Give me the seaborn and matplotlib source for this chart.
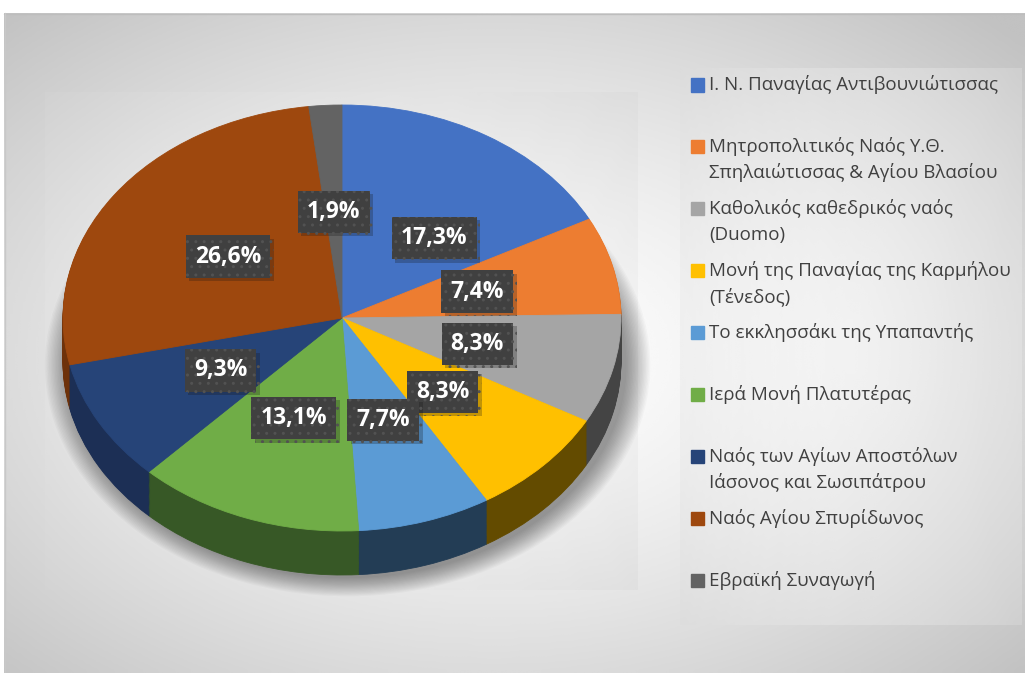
import numpy as np
import matplotlib
matplotlib.use('Agg')
import matplotlib.pyplot as plt
import matplotlib.patheffects as pe
from matplotlib.patches import Ellipse, Rectangle
import seaborn as sns

churches = [
    'Ι. Ν. Παναγίας Αντιβουνιώτισσας',
    'Μητροπολιτικός Ναός Υ.Θ.\nΣπηλαιώτισσας & Αγίου Βλασίου',
    'Καθολικός καθεδρικός ναός\n(Duomo)',
    'Μονή της Παναγίας της Καρμήλου\n(Τένεδος)',
    'Το εκκλησσάκι της Υπαπαντής',
    'Ιερά Μονή Πλατυτέρας',
    'Ναός των Αγίων Αποστόλων\nΙάσονος και Σωσιπάτρου',
    'Ναός Αγίου Σπυρίδωνος',
    'Εβραϊκή Συναγωγή',
]
shares = [17.3, 7.4, 8.3, 8.3, 7.7, 13.1, 9.3, 26.6, 1.9]

top_colors = sns.color_palette(['#4472C4', '#ED7D31', '#A5A5A5', '#FFC000', '#5B9BD5',
                                '#70AD47', '#264478', '#9E480E', '#636363'])
side_colors = sns.color_palette(['#2f4f88', '#a3561f', '#444444', '#634b00', '#233d55',
                                 '#375826', '#1c2f55', '#6e320a', '#444444'])

W, H = 1025, 673
sns.set_theme(style='white')
plt.rcParams['font.family'] = ['Open Sans', 'DejaVu Sans']

fig = plt.figure(figsize=(W / 100, H / 100), dpi=100)
fig.patch.set_facecolor('white')


def fx(x):
    return x / W


def fy(y):
    return 1 - y / H


def radial(w, h, edge=0.78, cx=0.5, cy=0.5):
    yy, xx = np.mgrid[0:1:h * 1j, 0:1:w * 1j]
    d = np.sqrt(((xx - cx) / 0.5) ** 2 + ((yy - cy) / 0.5) ** 2) / np.sqrt(2)
    return 1 - (1 - edge) * np.clip(d, 0, 1) ** 1.4


# background: chart area, plot area and legend each have a soft radial fill
bg = fig.add_axes([0, 0, 1, 1])
bg.imshow(radial(400, 300, 0.76, 0.48, 0.52), cmap='gray', vmin=0, vmax=1,
          extent=(4, W, H, 13), aspect='auto', interpolation='bicubic')
bg.imshow(radial(300, 260, 0.84), cmap='gray', vmin=0, vmax=1, alpha=0.35,
          extent=(45, 638, 590, 92), aspect='auto', interpolation='bicubic')
bg.imshow(radial(200, 300, 0.86), cmap='gray', vmin=0, vmax=1, alpha=0.45,
          extent=(680, 1022, 625, 68), aspect='auto', interpolation='bicubic')
bg.plot([4, W], [13.5, 13.5], color='#bdbdbd', lw=1)
bg.plot([4.5, 4.5], [13, H], color='#c8c8c8', lw=1)
bg.set_xlim(0, W)
bg.set_ylim(H, 0)
bg.axis('off')

# 3D pie: stretched axes so the unit circle becomes the tilted ellipse
cx, cy, rx, ry, depth = 342, 318, 279, 213, 44
x0, x1, y0, y1 = -1.2, 1.2, -1.5, 1.2
left = cx + x0 * rx
top = cy - y1 * ry
ax = fig.add_axes([fx(left), fy(top + (y1 - y0) * ry), (x1 - x0) * rx / W, (y1 - y0) * ry / H])
ax.set_facecolor('none')

d = depth / ry
for k in range(18):
    s = 1.0 + 0.005 * k
    ax.add_patch(Ellipse((0.02, -d - 0.015), 2 * s, 2 * s, color='black', alpha=0.022, lw=0))

n_layers = 40
for k in range(n_layers, 0, -1):
    wedges, _ = ax.pie(shares, colors=side_colors, startangle=90, counterclock=False,
                       center=(0, -d * k / n_layers), radius=1)
    for w in wedges:
        w.set_edgecolor(w.get_facecolor())
        w.set_linewidth(0.6)

wedges, texts, autotexts = ax.pie(
    shares, colors=top_colors, startangle=90, counterclock=False,
    autopct=lambda p: f'{p:.1f}%'.replace('.', ','), pctdistance=0.5,
    textprops=dict(color='white', fontsize=16.5, fontweight='bold'))
for w in wedges:
    w.set_edgecolor(w.get_facecolor())
    w.set_linewidth(0.6)
for t in autotexts:
    t.set_bbox(dict(boxstyle='square,pad=0.4', fc='#404040', ec='#525252', lw=0, hatch='..'))
    t.get_bbox_patch().set_path_effects([pe.SimplePatchShadow(offset=(2.5, -2.5), alpha=0.25),
                                         pe.Normal()])

# Excel pushes the first label aside so it clears the small 1,9% box
px_, py_ = autotexts[0].get_position()
autotexts[0].set_position((px_ + 20 / rx, py_ - 11 / ry))

ax.set_xlim(x0, x1)
ax.set_ylim(y0, y1)
ax.set_aspect('auto')
ax.axis('off')

# legend, drawn the way Excel lays it out (square beside the first line)
leg_y0, leg_step, line_gap = 85, 61.9, 26
for i, (name, col) in enumerate(zip(churches, top_colors)):
    yc = leg_y0 + i * leg_step
    fig.patches.append(Rectangle((fx(691), fy(yc + 6.5)), 13 / W, 13 / H, color=col,
                                 transform=fig.transFigure, figure=fig))
    for j, line in enumerate(name.split('\n')):
        fig.text(fx(709), fy(yc + j * line_gap), line, fontsize=13.5, color='#404040',
                 va='center', ha='left')

fig.savefig('out.png', dpi=100)
